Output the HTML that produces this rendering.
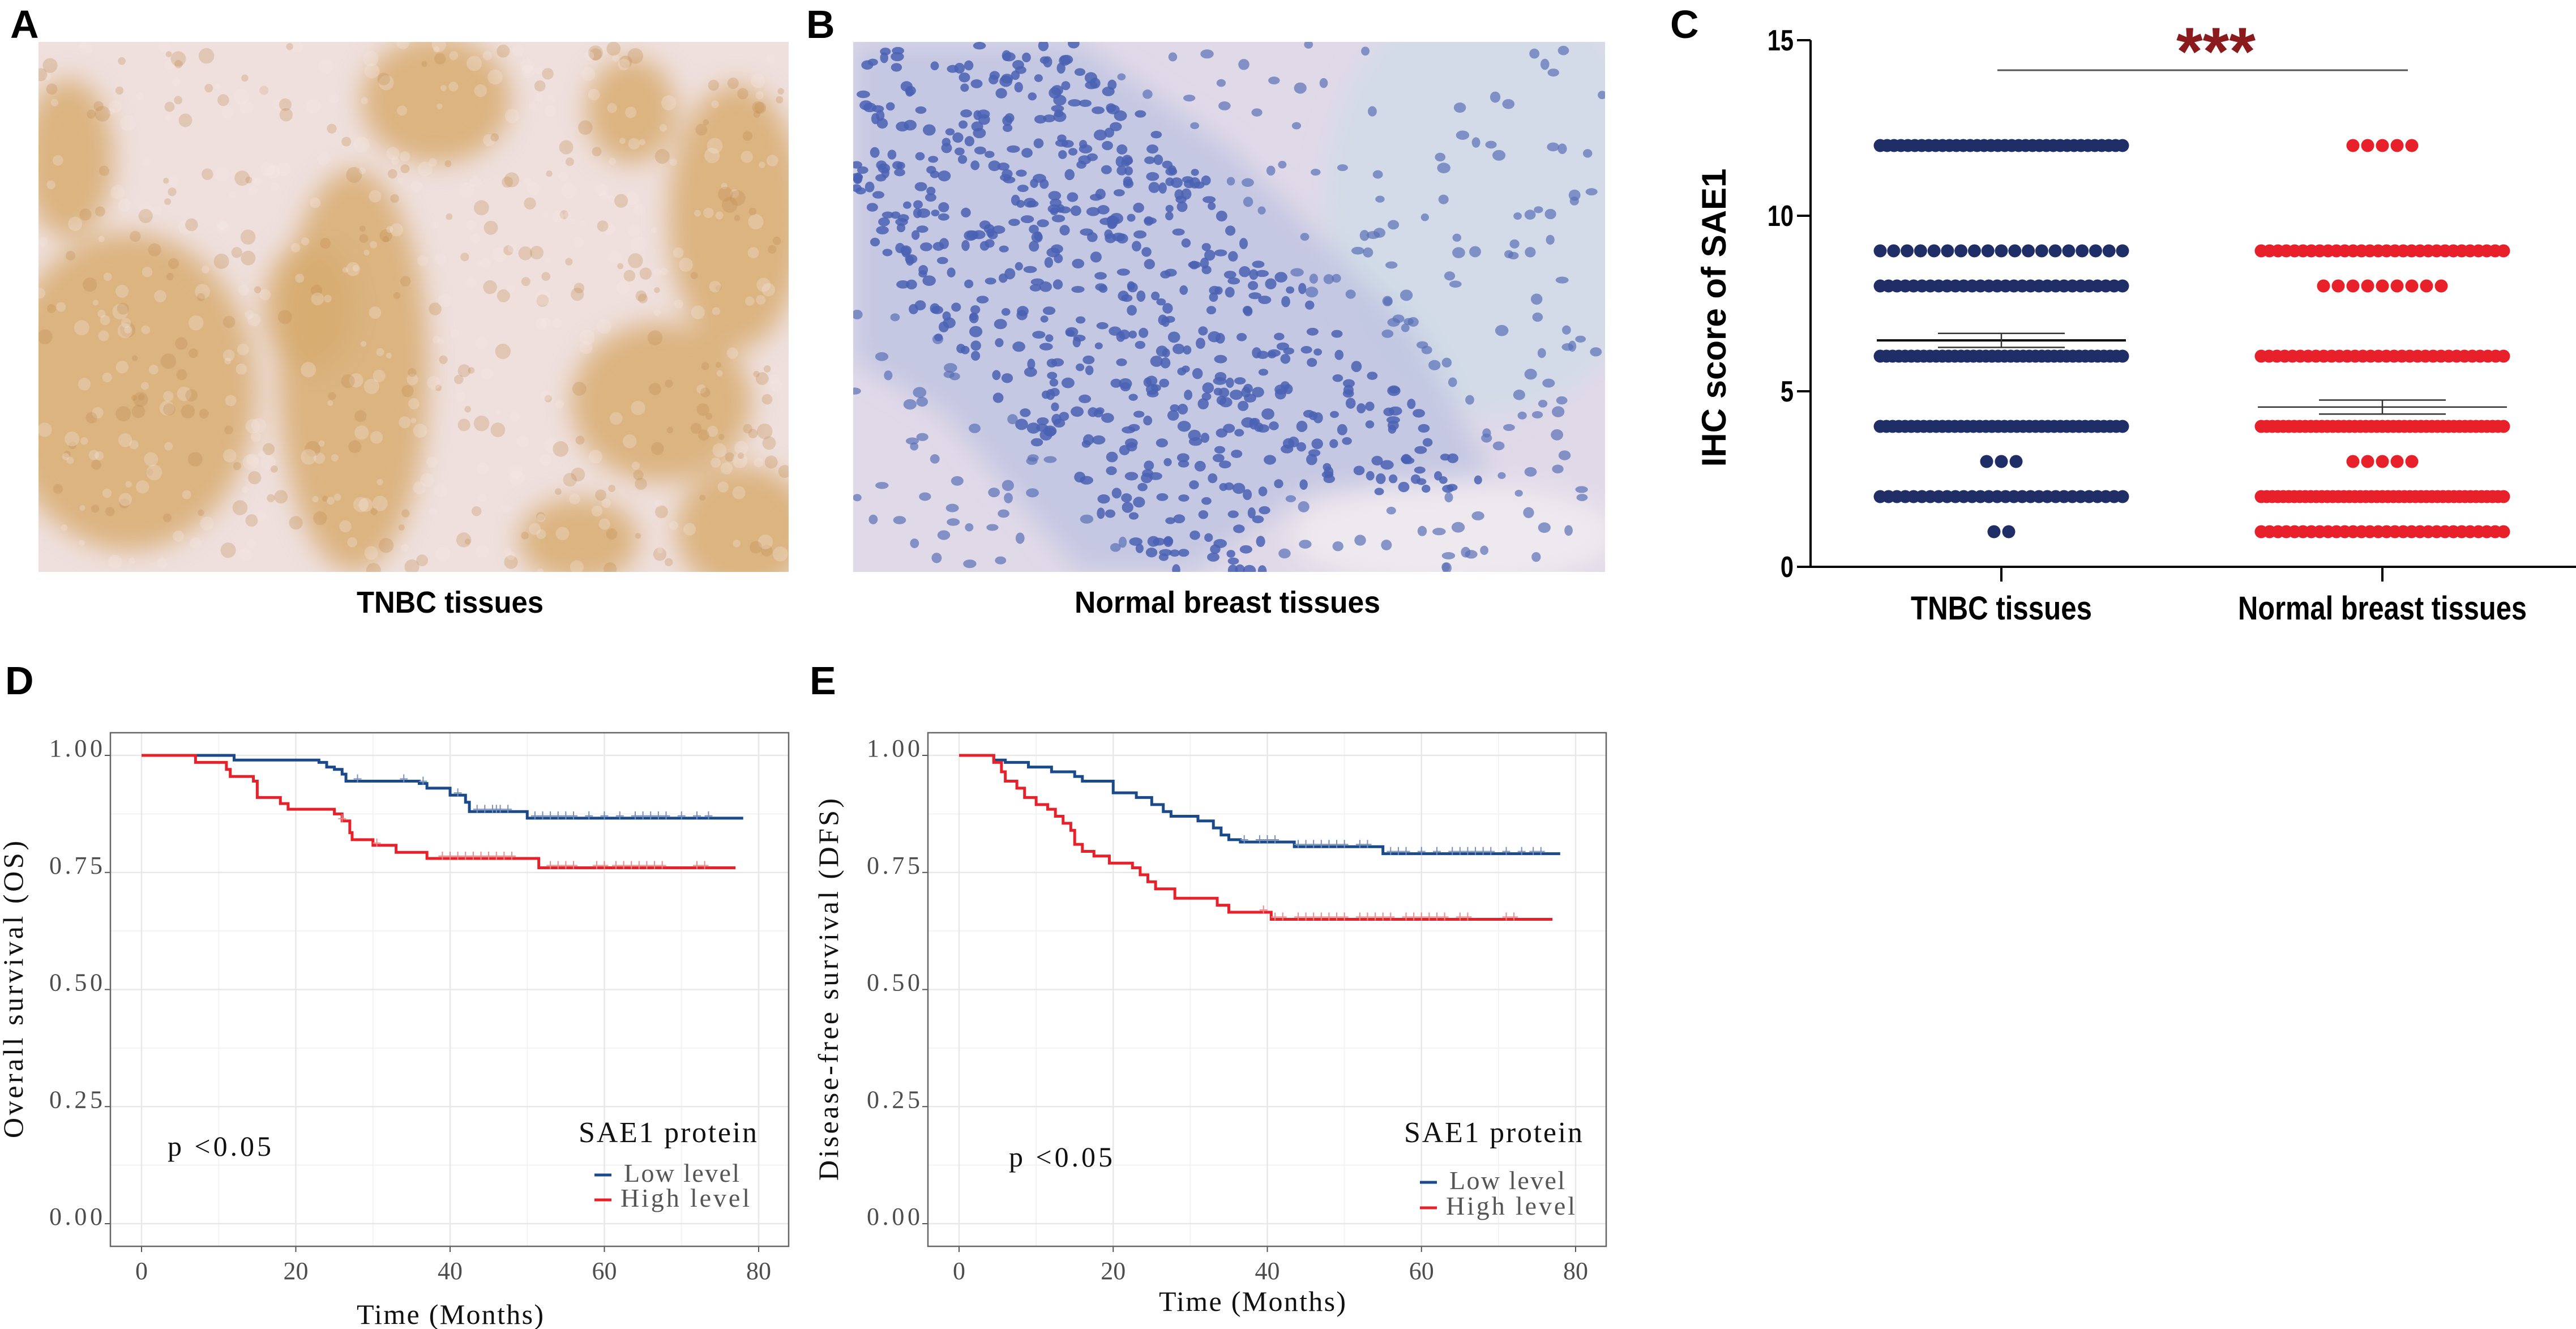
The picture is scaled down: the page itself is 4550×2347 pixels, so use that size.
<!DOCTYPE html>
<html><head><meta charset="utf-8"><style>
html,body{margin:0;padding:0;background:#fff;}
svg{display:block;}
.lbl{font-family:"Liberation Sans",Arial,sans-serif;font-weight:bold;}
.ser{font-family:"Liberation Serif","Noto Serif CJK SC",serif;}
</style></head><body>
<svg id="fig" xmlns="http://www.w3.org/2000/svg" width="4550" height="2347" viewBox="0 0 4550 2347">
<defs>
<filter id="blurA" x="-20%" y="-20%" width="140%" height="140%"><feGaussianBlur stdDeviation="22"/></filter>
<clipPath id="clipA"><rect x="68" y="74" width="1325" height="936"/></clipPath>
<clipPath id="clipB"><rect x="1507" y="74" width="1328" height="936"/></clipPath>
</defs>
<text class="lbl" x="18" y="67" font-size="70">A</text>
<text class="lbl" x="1424" y="67" font-size="70">B</text>
<text class="lbl" x="2950" y="67" font-size="70">C</text>
<text class="lbl" x="9" y="1226" font-size="70">D</text>
<text class="lbl" x="1430" y="1226" font-size="70">E</text>

<g id="imgA" clip-path="url(#clipA)">
<rect x="68" y="74" width="1325" height="936" fill="#efe0de"/>
<g id="blobsA" filter="url(#blurA)"></g>
<g id="cellsA"></g>
</g>
<g id="imgB" clip-path="url(#clipB)">
<rect x="1507" y="74" width="1328" height="936" fill="#e0d9e8"/>
<g id="bgB" filter="url(#blurA)"></g>
<g id="cellsB"></g>
</g>
<text class="lbl" x="795" y="1082" font-size="54" text-anchor="middle" textLength="330" lengthAdjust="spacingAndGlyphs">TNBC tissues</text>
<text class="lbl" x="2168" y="1082" font-size="54" text-anchor="middle" textLength="540" lengthAdjust="spacingAndGlyphs">Normal breast tissues</text>

<g id="panelC"></g>
<g id="panelD"></g>
<g id="panelE"></g>
</svg>
<script>
// ---------- Panel C data ----------
const cCategories = ["TNBC tissues", "Normal breast tissues"];
const cScoreLevels = [12, 9, 8, 6, 4, 3, 2, 1];
const cTnbcCounts = [36, 19, 30, 40, 40, 3, 30, 2];
const cNormalCounts = [5, 30, 9, 32, 45, 5, 45, 30];
const cMeans = [6.45, 4.55];
const cSems = [0.2, 0.2];
const cYTicks = [0, 5, 10, 15];

// ---------- Panel D data (OS) ----------
const dLowTimes = [12, 23, 24, 25, 26, 26.5, 36, 37, 40, 42, 42.5, 50];
const dLowSurv  = [0.99, 0.985, 0.975, 0.97, 0.96, 0.945, 0.94, 0.93, 0.915, 0.90, 0.88, 0.866];
const dLowEnd = 78;
const dLowCensor = [28, 34, 36.5, 41, 43.5, 44.5, 45.5, 46, 46.5, 47.5, 51, 52, 53, 54, 55, 56, 58, 60, 62, 64, 65, 66, 67, 68, 70, 72, 73.5];
const dHighTimes = [7, 11, 11.5, 14.5, 15, 18, 19, 25, 26, 27, 27.3, 30, 33, 37, 51.5];
const dHighSurv  = [0.985, 0.97, 0.955, 0.945, 0.91, 0.897, 0.885, 0.875, 0.86, 0.835, 0.82, 0.808, 0.793, 0.78, 0.76];
const dHighEnd = 77;
const dHighCensor = [26, 30.5, 39, 40, 41, 42, 43, 44, 45, 46, 47, 48, 53, 54, 55, 56, 59, 60, 61.5, 62.5, 63.5, 64.5, 65.5, 66.5, 67.5, 72, 73];
const kmXTicks = [0, 20, 40, 60, 80];
const kmYTicks = [0, 0.25, 0.5, 0.75, 1.0];
const kmYLabels = ["0.00", "0.25", "0.50", "0.75", "1.00"];

// ---------- Panel E data (DFS) ----------
const eLowTimes = [4.5, 6, 9, 12, 15, 16, 20, 23, 25, 26.5, 27.5, 31, 33, 34, 35, 36.5, 43.5, 55];
const eLowSurv  = [0.99, 0.985, 0.975, 0.965, 0.955, 0.945, 0.92, 0.91, 0.895, 0.88, 0.87, 0.86, 0.845, 0.83, 0.82, 0.815, 0.805, 0.79];
const eLowEnd = 78;
const eLowCensor = [37, 39, 40, 41, 44, 45, 46, 47, 48, 49, 50, 52, 53, 56, 57, 58, 60, 62, 64, 65, 66, 67, 68, 69, 71, 73, 74.5, 75.5];
const eHighTimes = [4.5, 5.5, 6, 7.5, 8.5, 10, 11.5, 12.5, 13.5, 14.5, 15, 16, 17.5, 19.5, 22.5, 23.5, 24.5, 25.5, 28, 33.5, 35, 40.5];
const eHighSurv  = [0.985, 0.965, 0.945, 0.93, 0.91, 0.895, 0.885, 0.87, 0.855, 0.84, 0.81, 0.795, 0.785, 0.77, 0.76, 0.745, 0.73, 0.715, 0.695, 0.68, 0.665, 0.65];
const eHighEnd = 77;
const eHighCensor = [39.5, 41, 42, 44, 45, 46, 47, 48, 49, 50, 52, 53, 54, 55, 56, 58, 59, 60, 61, 62, 63, 65, 66, 71, 72];

const NS = "http://www.w3.org/2000/svg";
function mk(parent, tag, attrs, text) {
  const e = document.createElementNS(NS, tag);
  for (const k in attrs) e.setAttribute(k, attrs[k]);
  if (text !== undefined) e.textContent = text;
  parent.appendChild(e);
  return e;
}

// ---------- textures for photos (decorative) ----------
let seed = 12345;
function rnd() { seed = (seed * 1103515245 + 12345) % 2147483648; return seed / 2147483648; }
(function () {
  const A = document.getElementById("blobsA");
  const ax = 68, ay = 74, aw = 1325, ah = 936;
  const blobs = [[0.12,0.66,0.17,0.30],[0.42,0.62,0.10,0.38],[0.53,0.11,0.10,0.12],[0.79,0.13,0.06,0.10],
    [0.93,0.33,0.09,0.25],[0.83,0.68,0.12,0.15],[0.94,0.92,0.09,0.12],[0.72,0.94,0.08,0.08],[0.04,0.22,0.06,0.15],[0.36,0.5,0.06,0.12]];
  blobs.forEach(b => mk(A, "ellipse", {cx: ax + b[0]*aw, cy: ay + b[1]*ah, rx: b[2]*aw, ry: b[3]*ah, fill: "#d7ab70", opacity: 0.85}));
  const CA = document.getElementById("cellsA");
  for (let i = 0; i < 600; i++) {
    const x = ax + rnd()*aw, y = ay + rnd()*ah, r = 5 + rnd()*9;
    mk(CA, "circle", {cx: x, cy: y, r: r, fill: rnd() < 0.6 ? "#f4e9e4" : "#c08a50", opacity: 0.3});
  }
  const G = document.getElementById("bgB");
  const bx = 1507, by = 74, bw = 1328, bh = 936;
  mk(G, "ellipse", {cx: bx + 0.85*bw, cy: by + 0.3*bh, rx: 0.22*bw, ry: 0.4*bh, fill: "#d2dbe7"});
  mk(G, "ellipse", {cx: bx + 0.8*bw, cy: by + 0.93*bh, rx: 0.22*bw, ry: 0.1*bh, fill: "#eee8ef"});
  mk(G, "polygon", {points: [[0,0],[0.3,0],[0.5,0.2],[0.75,0.55],[0.85,0.82],[0.6,0.85],[0.45,1],[0.3,1],[0.12,0.7],[0,0.6]].map(p => (bx+p[0]*bw)+","+(by+p[1]*bh)).join(" "), fill: "#bcc1e0", opacity: 0.75});
  const CB = document.getElementById("cellsB");
  function inside(u, v) {
    const left = Math.max(0, 0.65*v - 0.25), right = 0.3 + 0.65*v;
    return u > left && u < Math.min(right, 0.88) && !(v > 0.85 && u > 0.55);
  }
  for (let i = 0; i < 1400; i++) {
    const u = rnd(), v = rnd();
    const dense = inside(u, v);
    if (!dense && rnd() > 0.25) continue;
    mk(CB, "ellipse", {cx: bx + u*bw, cy: by + v*bh, rx: 7 + rnd()*5, ry: 6 + rnd()*4, fill: dense ? "#4a62b4" : "#5a70b8", opacity: dense ? 0.85 : 0.7});
  }
})();

// ---------- Panel C ----------
(function () {
  const g = document.getElementById("panelC");
  const x0 = 3198, xEnd = 4550, y0 = 1001, yTop = 71, yMax = 15;
  const yS = v => y0 - (v / yMax) * (y0 - yTop);
  const catX = [3535, 4208];
  const axis = mk(g, "g", {});
  
  
  mk(axis, "line", {x1: x0, y1: yTop, x2: x0, y2: y0, stroke: "#000", "stroke-width": 4});
  mk(axis, "line", {x1: x0 - 2, y1: y0, x2: xEnd, y2: y0, stroke: "#000", "stroke-width": 4});
  cYTicks.forEach(t => {
    const tk = mk(axis, "line", {x1: x0 - 24, y1: yS(t), x2: x0, y2: yS(t), stroke: "#000", "stroke-width": 4});
    
    
    const tl = mk(axis, "text", {x: x0 - 30, y: yS(t) + 18, "font-size": 52, "text-anchor": "end", class: "lbl", transform: `translate(${x0-30},0) scale(0.8,1) translate(${-(x0-30)},0)`}, String(t));
    
    
  });
  const yt = mk(g, "text", {x: 0, y: 0, class: "lbl", "font-size": 60, "text-anchor": "middle", transform: `translate(3048,${(yTop+y0)/2+25}) rotate(-90)`}, "IHC score of SAE1");
  
  
  cCategories.forEach((c, i) => {
    mk(g, "line", {x1: catX[i], y1: y0, x2: catX[i], y2: y0 + 26, stroke: "#000", "stroke-width": 4});
    const tl = mk(g, "text", {x: catX[i], y: 1094, class: "lbl", "font-size": 58, "text-anchor": "middle", textLength: i === 0 ? 320 : 510, lengthAdjust: "spacingAndGlyphs"}, c);
    
    
  });
  const series = [cTnbcCounts, cNormalCounts];
  const colors = ["#1f2e66", "#e8202a"];
  const maxHalf = 214, step = 26;
  series.forEach((counts, si) => {
    const sg = mk(g, "g", {});
    
    
    cScoreLevels.forEach((lvl, li) => {
      const n = counts[li];
      let sp = step;
      if ((n - 1) * step > 2 * maxHalf) sp = (2 * maxHalf) / (n - 1);
      for (let k = 0; k < n; k++) {
        const dx = (k - (n - 1) / 2) * sp;
        const d = mk(sg, "circle", {cx: catX[si] + dx, cy: yS(lvl), r: 11.5, fill: colors[si]});
        
        
      }
    });
    const m = cMeans[si], s = cSems[si];
    const mg = mk(g, "g", {});
    
    
    mk(mg, "line", {x1: catX[si] - 220, x2: catX[si] + 220, y1: yS(m), y2: yS(m), stroke: si === 0 ? "#000" : "#333", "stroke-width": si === 0 ? 4 : 2.5});
    mk(mg, "line", {x1: catX[si] - 112, x2: catX[si] + 112, y1: yS(m + s), y2: yS(m + s), stroke: "#333", "stroke-width": 2.5});
    mk(mg, "line", {x1: catX[si] - 112, x2: catX[si] + 112, y1: yS(m - s), y2: yS(m - s), stroke: "#333", "stroke-width": 2.5});
    mk(mg, "line", {x1: catX[si], x2: catX[si], y1: yS(m + s), y2: yS(m - s), stroke: "#333", "stroke-width": 2.5});
  });
  const sl = mk(g, "line", {x1: 3528, x2: 4253, y1: 124, y2: 124, stroke: "#555", "stroke-width": 3});
  
  
  const st = mk(g, "text", {x: 3914, y: 132, class: "lbl", "font-size": 120, "text-anchor": "middle", fill: "#8b1a1d"}, "***");
  
  
})();

// ---------- KM panels ----------
function kmPanel(gid, box, ytitle, ytitleX, series, legend, pPos, xTitlePos) {
  const g = document.getElementById(gid);
  const xS = t => box.x0 + (t / 80) * (box.x80 - box.x0);
  const yS = v => box.y0 - v * (box.y0 - box.y1);
  mk(g, "rect", {x: box.l, y: box.t, width: box.r - box.l, height: box.b - box.t, fill: "#fff"});
  [10, 30, 50, 70].forEach(t => mk(g, "line", {x1: xS(t), x2: xS(t), y1: box.t, y2: box.b, stroke: "#f3f3f3", "stroke-width": 2}));
  [0.125, 0.375, 0.625, 0.875].forEach(v => mk(g, "line", {x1: box.l, x2: box.r, y1: yS(v), y2: yS(v), stroke: "#f3f3f3", "stroke-width": 2}));
  kmXTicks.forEach(t => {
    const gl = mk(g, "line", {x1: xS(t), x2: xS(t), y1: box.t, y2: box.b, stroke: "#e8e8e8", "stroke-width": 2.5});
    
    
    mk(g, "line", {x1: xS(t), x2: xS(t), y1: box.b, y2: box.b + 10, stroke: "#555", "stroke-width": 2});
    const tl = mk(g, "text", {x: xS(t), y: box.b + 58, class: "ser", "font-size": 44, "text-anchor": "middle", fill: "#4d4d4d"}, String(t));
    
    
  });
  kmYTicks.forEach((v, i) => {
    const gl = mk(g, "line", {x1: box.l, x2: box.r, y1: yS(v), y2: yS(v), stroke: "#e8e8e8", "stroke-width": 2.5});
    
    
    mk(g, "line", {x1: box.l - 10, x2: box.l, y1: yS(v), y2: yS(v), stroke: "#555", "stroke-width": 2});
    const tl = mk(g, "text", {x: box.l - 14, y: yS(v) + 2, class: "ser", "font-size": 44, "text-anchor": "end", fill: "#4d4d4d", textLength: 94, lengthAdjust: "spacing"}, kmYLabels[i]);
    
    
  });
  mk(g, "rect", {x: box.l, y: box.t, width: box.r - box.l, height: box.b - box.t, fill: "none", stroke: "#666", "stroke-width": 2.5});
  series.forEach(s => {
    let d = `M${xS(0)},${yS(1)}`;
    s.times.forEach((t, i) => { d += ` H${xS(t)} V${yS(s.surv[i])}`; });
    d += ` H${xS(s.end)}`;
    const p = mk(g, "path", {d: d, fill: "none", stroke: s.color, "stroke-width": 5});
    
    
    const cg = mk(g, "g", {stroke: s.light, "stroke-width": 2});
    
    
    s.censor.forEach(c => {
      let v = 1;
      s.times.forEach((t, i) => { if (t <= c) v = s.surv[i]; });
      const cx = xS(c), cy = yS(v) - 4;
      mk(cg, "line", {x1: cx - 7, x2: cx + 7, y1: cy, y2: cy});
      mk(cg, "line", {x1: cx, x2: cx, y1: cy - 8, y2: cy + 6});
    });
  });
  const yt = mk(g, "text", {class: "ser", "font-size": 50, "text-anchor": "middle", fill: "#111", transform: `translate(${ytitleX},${(box.y0 + box.y1) / 2}) rotate(-90)`, textLength: ytitle.length * 25, lengthAdjust: "spacing"}, ytitle);
  
  
  const xt = mk(g, "text", {x: xTitlePos[0], y: xTitlePos[1], class: "ser", "font-size": 50, "text-anchor": "middle", fill: "#111", textLength: 330, lengthAdjust: "spacing"}, "Time (Months)");
  
  
  const pt = mk(g, "text", {x: pPos[0], y: pPos[1], class: "ser", "font-size": 50, fill: "#111", textLength: 183, lengthAdjust: "spacing"}, "p <0.05");
  
  
  const lg = mk(g, "g", {});
  
  
  mk(lg, "text", {x: legend.x, y: legend.ty, class: "ser", "font-size": 52, fill: "#111", textLength: 315, lengthAdjust: "spacing"}, "SAE1 protein");
  [["Low level", "#1a4a8a", legend.y1], ["High level", "#e8202a", legend.y2]].forEach((e, i) => {
    const le = mk(lg, "g", {});
    
    
    mk(le, "line", {x1: legend.x + 28, x2: legend.x + 58, y1: e[2] - 12, y2: e[2] - 12, stroke: e[1], "stroke-width": 5});
    mk(le, "text", {x: legend.x + (i === 0 ? 80 : 74), y: e[2], class: "ser", "font-size": 46, fill: "#555", textLength: i === 0 ? 204 : 228, lengthAdjust: "spacing"}, e[0]);
  });
}
kmPanel("panelD", {l: 195, r: 1393, t: 1294, b: 2201, x0: 250, x80: 1340, y0: 2161, y1: 1334},
  "Overall survival (OS)", 40,
  [{name: "low-level-curve", times: dLowTimes, surv: dLowSurv, end: dLowEnd, censor: dLowCensor, color: "#1a4a8a", light: "#7a90b8"},
   {name: "high-level-curve", times: dHighTimes, surv: dHighSurv, end: dHighEnd, censor: dHighCensor, color: "#e8202a", light: "#ee8a8a"}],
  {x: 1022, ty: 2017, y1: 2087, y2: 2131}, [296, 2041], [795, 2338]);
kmPanel("panelE", {l: 1639, r: 2837, t: 1294, b: 2201, x0: 1694, x80: 2783, y0: 2161, y1: 1334},
  "Disease-free survival (DFS)", 1480,
  [{name: "low-level-curve", times: eLowTimes, surv: eLowSurv, end: eLowEnd, censor: eLowCensor, color: "#1a4a8a", light: "#7a90b8"},
   {name: "high-level-curve", times: eHighTimes, surv: eHighSurv, end: eHighEnd, censor: eHighCensor, color: "#e8202a", light: "#ee8a8a"}],
  {x: 2480, ty: 2017, y1: 2100, y2: 2145}, [1782, 2060], [2212, 2315]);
</script>
</body></html>
